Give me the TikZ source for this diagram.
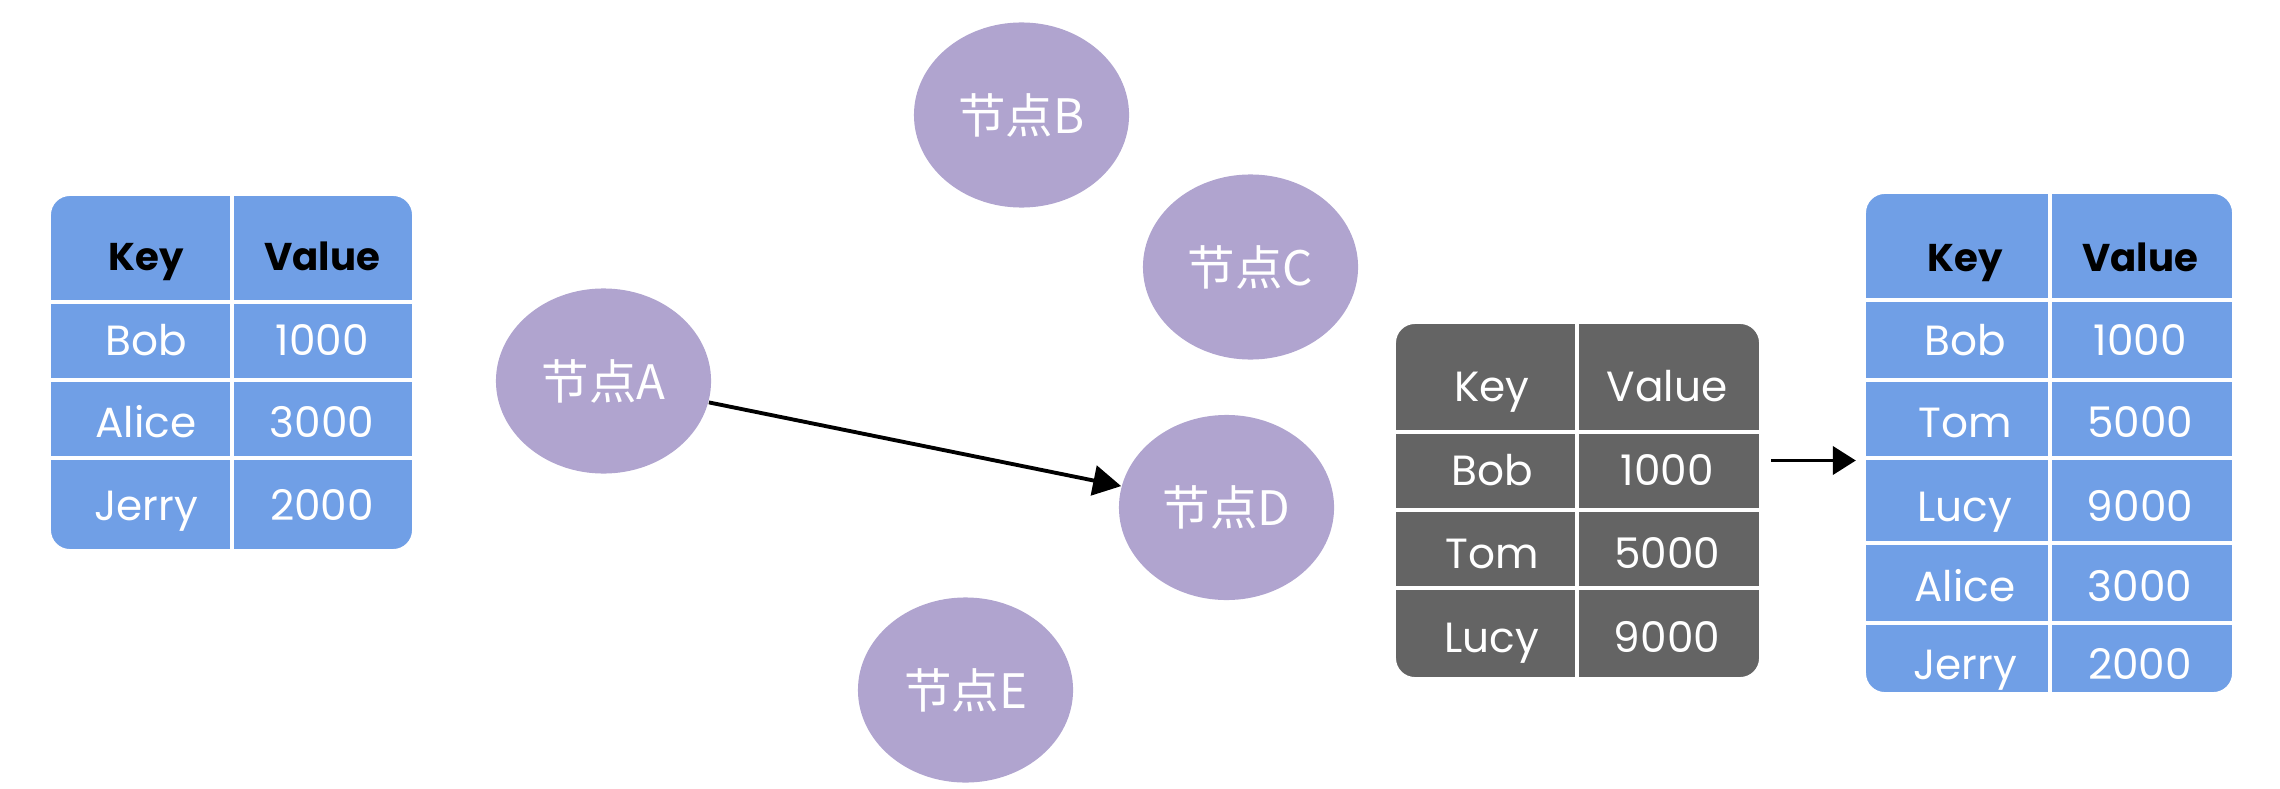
\documentclass[tikz,border=0pt]{standalone}
\usepackage{fontspec}
\setmainfont{Poppins}
\newfontfamily\cjk{Noto Sans CJK SC}
\usetikzlibrary{shapes.geometric,arrows.meta,calc}
\definecolor{tblue}{RGB}{112,159,230}
\definecolor{tgray}{RGB}{100,100,100}
\definecolor{npurple}{RGB}{176,164,207}
\tikzset{
  nodeell/.style={ellipse, fill=npurple, minimum width=2.15cm, minimum height=1.85cm,
    inner sep=0pt, text=white, font=\cjk\fontsize{13.5}{13.5}\selectfont},
  tbl/.style={rectangle, rounded corners=0.2cm, inner sep=0pt, draw=white, line width=0.6pt},
  gridline/.style={white, line width=1.2pt},
  hdrb/.style={anchor=base, inner sep=0pt, text=black, font=\bfseries\fontsize{11}{11}\selectfont},
  hdrw/.style={anchor=base, inner sep=0pt, text=white, font=\fontsize{12}{12}\selectfont},
  cell/.style={anchor=base, inner sep=0pt, text=white, font=\fontsize{12}{12}\selectfont},
  link/.style={-{Triangle[length=0.28cm,width=0.3cm]}, line width=1.1pt, black},
  linkb/.style={-{Triangle[length=0.23cm,width=0.28cm]}, line width=1.1pt, black},
}
\begin{document}
\begin{tikzpicture}[x=0.01cm, y=-0.01cm]
\useasboundingbox (0,0) rectangle (2280,788);

% ---------- left table ----------
\node[tbl, fill=tblue, minimum width=3.63cm, minimum height=3.55cm] (tL) at (231.5,372.5) {};
\draw[gridline] (232,195) -- (232,550);
\foreach \yy in {302,380,458} \draw[gridline] (50,\yy) -- (413,\yy);
\node[hdrb] (tLk0) at (146,270) {Key};
\node[hdrb] (tLv0) at (322,270) {Value};
\node[cell] (tLk1) at (146,355) {Bob};
\node[cell] (tLv1) at (322,355) {1000};
\node[cell] (tLk2) at (146,437) {Alice};
\node[cell] (tLv2) at (322,437) {3000};
\node[cell] (tLk3) at (146,520) {Jerry};
\node[cell] (tLv3) at (322,520) {2000};

% ---------- nodes ----------
\node[nodeell] (A) at (603.5,381) {节点A};
\node[nodeell] (B) at (1021.5,115) {节点B};
\node[nodeell] (C) at (1250.5,267) {节点C};
\node[nodeell] (D) at (1226.5,507.5) {节点D};
\node[nodeell] (E) at (965.5,690) {节点E};
\draw[link] (A) -- (D);

% ---------- middle table ----------
\node[tbl, fill=tgray, minimum width=3.65cm, minimum height=3.55cm] (tM) at (1577.5,500.5) {};
\draw[gridline] (1577,323) -- (1577,678);
\foreach \yy in {432,510,588} \draw[gridline] (1395,\yy) -- (1760,\yy);
\node[hdrw] (tMk0) at (1492,401) {Key};
\node[hdrw] (tMv0) at (1667,401) {Value};
\node[cell] (tMk1) at (1492,485) {Bob};
\node[cell] (tMv1) at (1667,485) {1000};
\node[cell] (tMk2) at (1492,568) {Tom};
\node[cell] (tMv2) at (1667,568) {5000};
\node[cell] (tMk3) at (1492,652) {Lucy};
\node[cell] (tMv3) at (1667,652) {9000};

% ---------- right table ----------
\node[tbl, fill=tblue, minimum width=3.68cm, minimum height=5.0cm] (tR) at (2049,443) {};
\draw[gridline] (2050,193) -- (2050,693);
\foreach \yy in {300,380,458,543,623} \draw[gridline] (1865,\yy) -- (2233,\yy);
\node[hdrb] (tRk0) at (1965,271) {Key};
\node[hdrb] (tRv0) at (2140,271) {Value};
\node[cell] (tRk1) at (1965,355) {Bob};
\node[cell] (tRv1) at (2140,355) {1000};
\node[cell] (tRk2) at (1965,437) {Tom};
\node[cell] (tRv2) at (2140,437) {5000};
\node[cell] (tRk3) at (1965,521) {Lucy};
\node[cell] (tRv3) at (2140,521) {9000};
\node[cell] (tRk4) at (1965,601) {Alice};
\node[cell] (tRv4) at (2140,601) {3000};
\node[cell] (tRk5) at (1965,679) {Jerry};
\node[cell] (tRv5) at (2140,679) {2000};

% ---------- arrow between tables ----------
\coordinate (p1) at ($(tM.east)+(10,-40)$);
\draw[linkb, shorten >=0.08cm] (p1) -- (p1 -| tR.west);
\end{tikzpicture}
\end{document}
